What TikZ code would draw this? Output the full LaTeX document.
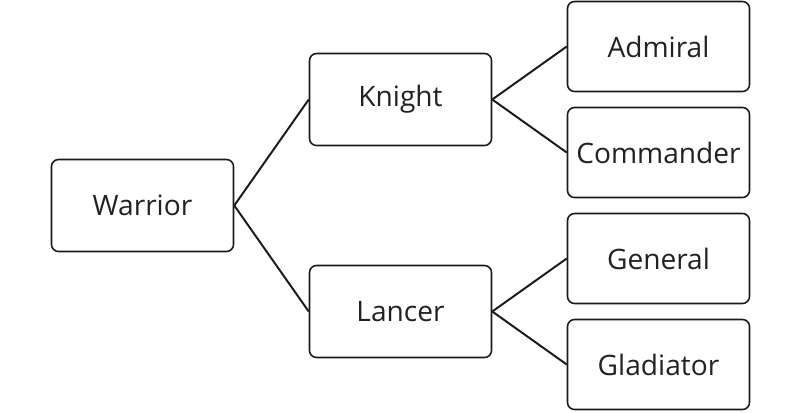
\documentclass[tikz,border=0pt]{standalone}
\usepackage{fontspec}
\setmainfont{Open Sans}
\usetikzlibrary{positioning}
\definecolor{rankText}{HTML}{222222}
\definecolor{rankLine}{HTML}{1a1a1a}
\tikzset{
  rank/.style={rounded corners=5pt, draw=rankLine, line width=1.1pt, fill=white,
               minimum width=4.55cm, minimum height=2.3cm, inner sep=2pt,
               align=center, font=\fontsize{20}{23}\selectfont, text=rankText},
  leaf/.style={rank, minimum height=2.25cm},
  link/.style={draw=rankLine, line width=1.4pt},
}
\begin{document}
\begin{tikzpicture}
  \useasboundingbox (0,0) rectangle (20,-10.3);
  % three levels of the class tree
  \node[rank] (warrior) at (3.5625,-5.1375) {Warrior};
  \node[rank] (knight) at (10.0125,-2.4875) {Knight};
  \node[rank] (lancer) at (10.0125,-7.7875) {Lancer};
  \node[leaf] (admiral) at (16.4625,-1.1625) {Admiral};
  \node[leaf] (commander) at (16.4625,-3.8125) {Commander};
  \node[leaf] (general) at (16.4625,-6.4625) {General};
  \node[leaf] (gladiator) at (16.4625,-9.1125) {Gladiator};
  \foreach \a/\b in {warrior/knight, warrior/lancer, knight/admiral,
                     knight/commander, lancer/general, lancer/gladiator}{
    \draw[link] (\a.east) -- (\b.west);
  }
\end{tikzpicture}
\end{document}
